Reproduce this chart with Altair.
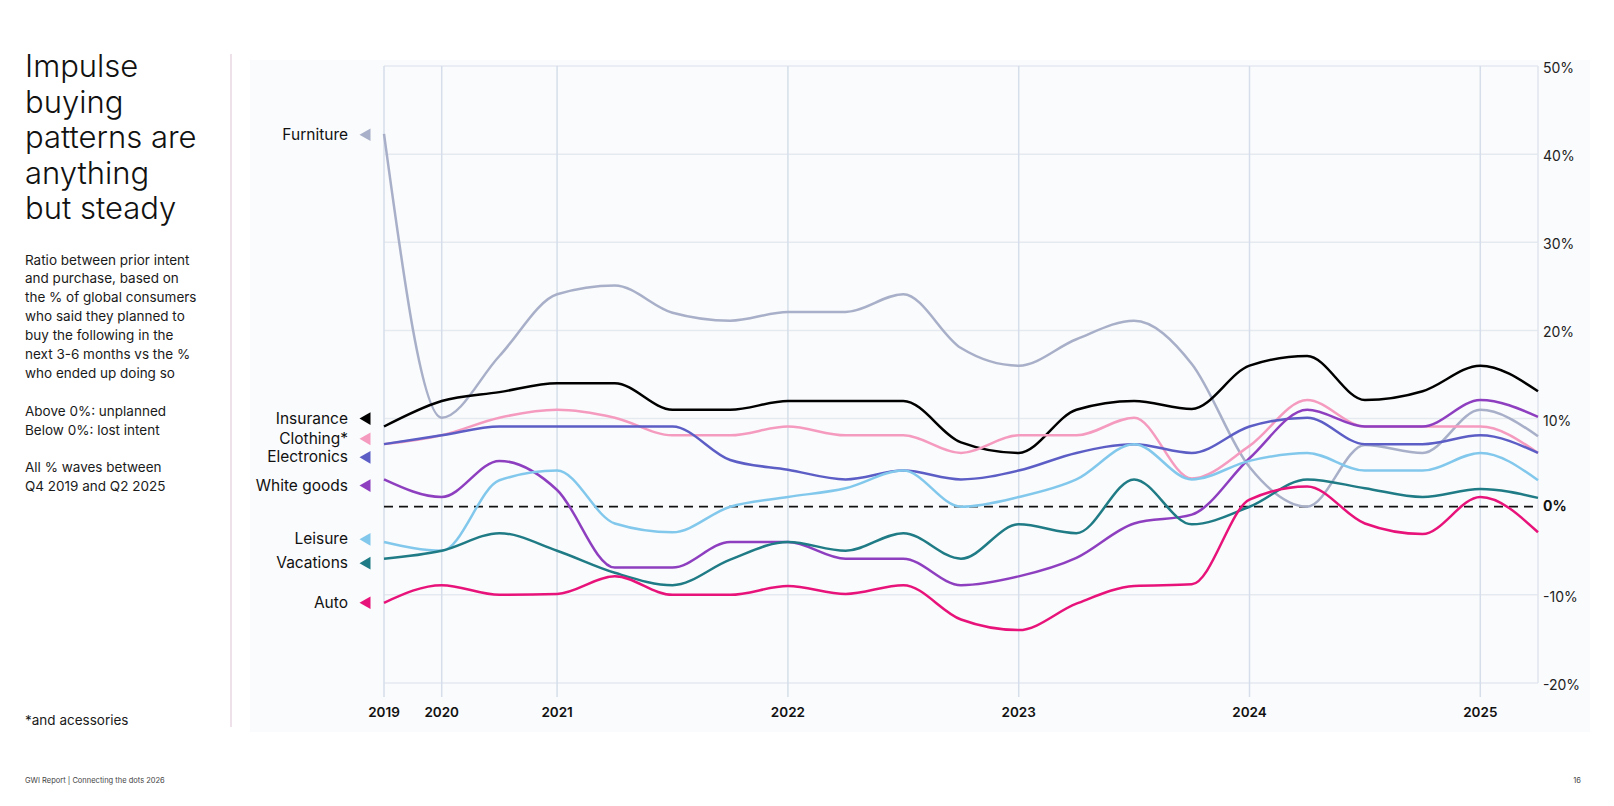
import altair as alt
import pandas as pd

# ---------------- data ----------------
categories = ["Furniture", "Insurance", "Clothing*", "Electronics",
              "White goods", "Leisure", "Vacations", "Auto"]
colors = ["#a8afc8", "#000000", "#f59bbf", "#5c5ec6",
          "#8e3fc0", "#82c8ec", "#1f7b85", "#e8137a"]

wave_index = list(range(21))

furniture = [42.3, 10.1, 17.1, 24.1, 25.1, 22.0, 21.1, 22.1, 22.1, 24.1, 18.0,
             16.0, 19.0, 21.1, 16.2, 4.5, 0.0, 7.0, 6.1, 11.0, 8.0]
insurance = [9.1, 12.0, 13.0, 14.0, 14.0, 11.0, 11.0, 12.0, 12.0, 12.0, 7.3,
             6.1, 11.0, 12.0, 11.1, 16.0, 17.1, 12.1, 13.1, 16.0, 13.1]
clothing = [7.1, 8.1, 10.1, 11.0, 10.1, 8.1, 8.1, 9.1, 8.1, 8.1, 6.1,
            8.1, 8.1, 10.1, 3.2, 6.9, 12.1, 9.1, 9.1, 9.1, 6.1]
electronics = [7.1, 8.1, 9.1, 9.1, 9.1, 9.1, 5.3, 4.2, 3.1, 4.1, 3.1,
               4.1, 6.1, 7.1, 6.1, 9.1, 10.1, 7.1, 7.1, 8.1, 6.1]
white_goods = [3.1, 1.1, 5.2, 1.9, -6.9, -6.9, -4.0, -4.0, -5.9, -5.9, -8.9,
               -7.9, -5.8, -1.9, -0.9, 5.5, 11.0, 9.1, 9.1, 12.1, 10.2]
leisure = [-4.0, -5.0, 3.0, 4.1, -1.9, -2.9, 0.0, 1.1, 2.1, 4.1, 0.0,
           1.1, 3.1, 7.1, 3.1, 5.2, 6.1, 4.1, 4.1, 6.1, 3.0]
vacations = [-5.9, -5.0, -3.0, -5.0, -7.5, -8.9, -6.0, -4.0, -5.0, -3.0, -5.9,
             -2.0, -3.0, 3.1, -2.0, 0.0, 3.1, 2.1, 1.1, 2.0, 1.0]
auto = [-10.9, -8.9, -10.0, -9.9, -7.9, -10.0, -10.0, -9.0, -9.9, -8.9, -12.8,
        -14.0, -11.0, -9.0, -8.8, 0.8, 2.3, -1.9, -3.1, 1.1, -2.9]

series_values = [furniture, insurance, clothing, electronics,
                 white_goods, leisure, vacations, auto]

# where each series name sits next to the left edge (in % units)
label_pos = [42.2, 10.0, 7.7, 5.6, 2.4, -3.7, -6.4, -10.9]

year_ticks = [0, 1, 3, 7, 11, 15, 19]
year_labels = ["2019", "2020", "2021", "2022", "2023", "2024", "2025"]
y_ticks = [-20, -10, 0, 10, 20, 30, 40, 50]
y_labels = ["-20%", "-10%", "0%", "10%", "20%", "30%", "40%", "50%"]

title_lines = ["Impulse", "buying", "patterns are", "anything", "but steady"]
body_lines_1 = ["Ratio between prior intent", "and purchase, based on",
                "the % of global consumers", "who said they planned to",
                "buy the following in the", "next 3-6 months vs the %",
                "who ended up doing so"]
body_lines_2 = ["Above 0%: unplanned", "Below 0%: lost intent"]
body_lines_3 = ["All % waves between", "Q4 2019 and Q2 2025"]
footnote = "*and acessories"
footer = "GWI Report  |  Connecting the dots 2026"
page_no = "16"

# ---------------- tables ----------------
rows = []
for name, vals in zip(categories, series_values):
    for i, v in zip(wave_index, vals):
        rows.append({"series": name, "wave": i, "value": v})
df = pd.DataFrame(rows)
labels_df = pd.DataFrame({"series": categories, "pos": label_pos})
ygrid_df = pd.DataFrame({"v": y_ticks, "label": y_labels})
xgrid_df = pd.DataFrame({"w": year_ticks, "label": year_labels})
zero_df = pd.DataFrame({"v": [0]})
one = pd.DataFrame({"k": [0]})

W, H = 1154, 617
FONT = "Inter"
xs = alt.Scale(domain=[0, 20], nice=False, zero=False)
ys = alt.Scale(domain=[-20, 50], nice=False, zero=False)
cs = alt.Scale(domain=categories, range=colors)

panel = alt.Chart(one).mark_rect(color="#fafbfc").encode(
    x=alt.value(-134), x2=alt.value(1206), y=alt.value(-6), y2=alt.value(666))

separator = alt.Chart(one).mark_rule(color="#ead7e2", strokeWidth=1.5).encode(
    x=alt.value(-153), y=alt.value(-12), y2=alt.value(661))

ygrid = alt.Chart(ygrid_df).transform_filter("datum.v != 0").mark_rule(
    color="#e5e9f0", strokeWidth=1.5).encode(
    y=alt.Y("v:Q", scale=ys, axis=None), x=alt.value(0), x2=alt.value(W))

xgrid = alt.Chart(xgrid_df).mark_rule(color="#d5deea", strokeWidth=1.5).encode(
    x=alt.X("w:Q", scale=xs, axis=None), y=alt.value(0), y2=alt.value(H + 14))

border = alt.Chart(one).mark_rule(color="#e0e5ee", strokeWidth=1.5).encode(
    x=alt.value(W), y=alt.value(0), y2=alt.value(H))

zero = alt.Chart(zero_df).mark_rule(color="#111111", strokeWidth=1.8,
                                     strokeDash=[9, 6]).encode(
    y=alt.Y("v:Q", scale=ys, axis=None), x=alt.value(0), x2=alt.value(W))

lines = alt.Chart(df).mark_line(interpolate="monotone", strokeWidth=2.5).encode(
    x=alt.X("wave:Q", scale=xs, axis=None),
    y=alt.Y("value:Q", scale=ys, axis=None),
    color=alt.Color("series:N", scale=cs, legend=None),
)

# axis labels drawn as text through the scales
xlab = alt.Chart(xgrid_df).mark_text(align="center", baseline="middle",
                                     fontSize=13.5, fontWeight=600, font=FONT,
                                     color="#111111").encode(
    x=alt.X("w:Q", scale=xs, axis=None), y=alt.value(H + 30), text="label:N")

ylab = alt.Chart(ygrid_df).transform_filter("datum.v != 0").mark_text(
    align="left", baseline="middle", fontSize=14, font=FONT, dy=3,
    color="#222222").encode(
    y=alt.Y("v:Q", scale=ys, axis=None), x=alt.value(W + 5), text="label:N")

ylab0 = alt.Chart(ygrid_df).transform_filter("datum.v == 0").mark_text(
    align="left", baseline="middle", fontSize=14, fontWeight=700, font=FONT,
    color="#111111").encode(
    y=alt.Y("v:Q", scale=ys, axis=None), x=alt.value(W + 5), text="label:N")

triangles = alt.Chart(labels_df).mark_point(shape="triangle-left", filled=True,
                                            size=160, opacity=1).encode(
    x=alt.value(-19),
    y=alt.Y("pos:Q", scale=ys, axis=None),
    color=alt.Color("series:N", scale=cs, legend=None))

names = alt.Chart(labels_df).mark_text(align="right", baseline="middle",
                                       fontSize=15.5, font=FONT,
                                       color="#111111").encode(
    x=alt.value(-36), y=alt.Y("pos:Q", scale=ys, axis=None), text="series:N")

title = alt.Chart(one).mark_text(align="left", baseline="alphabetic",
                                 fontSize=31, lineHeight=35.6, font=FONT,
                                 fontWeight=300, color="#111111").encode(
    x=alt.value(-359), y=alt.value(11), text=alt.value(title_lines))


def block(lines_, y0):
    return alt.Chart(one).mark_text(align="left", baseline="alphabetic",
                                    fontSize=13.5, lineHeight=18.9, font=FONT,
                                    color="#1a1a1a").encode(
        x=alt.value(-359), y=alt.value(y0), text=alt.value(lines_))


body1 = block(body_lines_1, 198.5)
body2 = block(body_lines_2, 349.7)
body3 = block(body_lines_3, 406.4)

note = alt.Chart(one).mark_text(align="left", baseline="alphabetic",
                                fontSize=13.5, font=FONT, color="#1a1a1a").encode(
    x=alt.value(-359), y=alt.value(659), text=alt.value(footnote))

foot = alt.Chart(one).mark_text(align="left", baseline="middle",
                                fontSize=7.5, font=FONT, color="#444444").encode(
    x=alt.value(-359), y=alt.value(715), text=alt.value(footer))

page = alt.Chart(one).mark_text(align="center", baseline="middle",
                                fontSize=7.5, font=FONT, color="#444444").encode(
    x=alt.value(1193), y=alt.value(715), text=alt.value(page_no))

chart = alt.layer(panel, separator, ygrid, xgrid, border, zero, lines,
                  xlab, ylab, ylab0, triangles, names, title, body1, body2,
                  body3, note, foot, page).properties(
    width=W, height=H,
    autosize=alt.AutoSizeParams(type="none"),
    padding={"left": 376, "top": 58, "right": 68, "bottom": 112},
    background="#ffffff",
).configure_view(stroke=None)

chart.save("out.html", embed_options={"renderer": "svg", "actions": False})
